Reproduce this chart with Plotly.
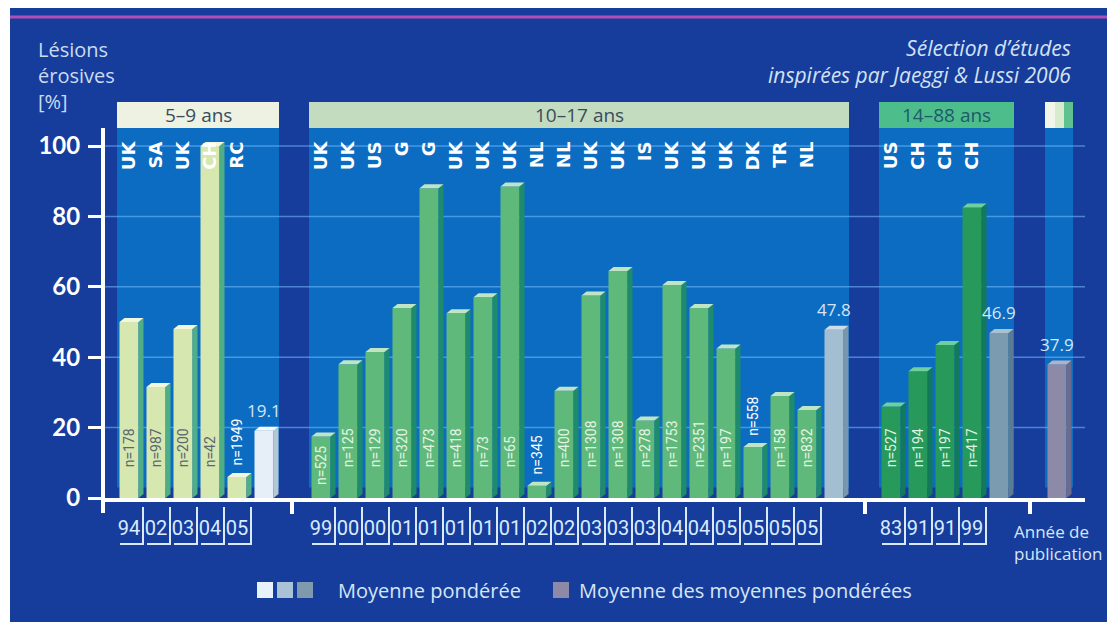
import plotly.graph_objects as go

# --------------------------- DATA ---------------------------
countries_5_9 = ["UK", "SA", "UK", "CH", "RC"]
years_5_9 = ["94", "02", "03", "04", "05"]
values_5_9 = [50, 31.5, 48, 100, 6]
n_5_9 = [178, 987, 200, 42, 1949]
mean_5_9 = 19.1

countries_10_17 = ["UK", "UK", "US", "G", "G", "UK", "UK", "UK", "NL", "NL",
                   "UK", "UK", "IS", "UK", "UK", "UK", "DK", "TR", "NL"]
years_10_17 = ["99", "00", "00", "01", "01", "01", "01", "01", "02", "02",
               "03", "03", "03", "04", "04", "05", "05", "05", "05"]
values_10_17 = [17.5, 38, 41.5, 54, 88, 52.5, 57, 88.5, 3.5, 30.5,
                57.5, 64.5, 22, 60.5, 54, 42.5, 14.5, 29, 25]
n_10_17 = [525, 125, 129, 320, 473, 418, 73, 65, 345, 400,
           1308, 1308, 278, 1753, 2351, 197, 558, 158, 832]
mean_10_17 = 47.8

countries_14_88 = ["US", "CH", "CH", "CH"]
years_14_88 = ["83", "91", "91", "99"]
values_14_88 = [26, 36, 43.5, 82.5]
n_14_88 = [527, 194, 197, 417]
mean_14_88 = 46.9

overall_mean = 37.9

# --------------------------- LAYOUT HELPERS ---------------------------
OFF = 8                # page margin of the browser body
W, H = 1115 - OFF, 628 - OFF
Y0_PX = 498            # screen row of 0 %
PX_PER_UNIT = 3.52     # pixels per percentage point
SLOT = 27
HALF = 9.5             # half width of the bar front
DEPTH_X = 5
DEPTH_Y = 4 / PX_PER_UNIT

navy = '#173d9c'
panel_blue = '#0b6cc2'
grid_color = 'rgba(120,190,255,0.55)'
light_text = '#d6e6f6'


def vy(p):
    # screen row -> value on the y axis
    return (Y0_PX - p) / PX_PER_UNIT


def py(p):
    # screen row -> paper fraction
    return 1 - (p - OFF) / H


groups = [
    dict(start=129, countries=countries_5_9, years=years_5_9, values=values_5_9, n=n_5_9,
         mean=mean_5_9, label="5–9 ans", head_bg='#edf2e2', head_fg='#3b4b5d',
         front='#d6e7b0', side='#4fae86', top='#f2f7dc', n_in='#5a6670',
         mean_front='#e6eff7', mean_side='#b3c7d6', mean_top='#f8fbfd'),
    dict(start=321, countries=countries_10_17, years=years_10_17, values=values_10_17, n=n_10_17,
         mean=mean_10_17, label="10–17 ans", head_bg='#c3dcc0', head_fg='#3b4b5d',
         front='#5fb97b', side='#1e8b6c', top='#bfe5c4', n_in='#e4f4e4',
         mean_front='#a3bdd1', mean_side='#7896ae', mean_top='#cfdde8'),
    dict(start=891, countries=countries_14_88, years=years_14_88, values=values_14_88, n=n_14_88,
         mean=mean_14_88, label="14–88 ans", head_bg='#4dbd8c', head_fg='#1d5a6c',
         front='#27995a', side='#12795c', top='#6fcf9f', n_in='#dff2e6',
         mean_front='#7b9bb0', mean_side='#5b7b93', mean_top='#a9c1d0'),
]
overall_pos = 1057


def faces(xs, vals):
    sx, sy, tx, ty = [], [], [], []
    for x, v in zip(xs, vals):
        r = x + HALF
        sx += [r, r + DEPTH_X, r + DEPTH_X, r, r, None]
        sy += [0, DEPTH_Y, v + DEPTH_Y, v, 0, None]
        tx += [x - HALF, r, r + DEPTH_X, x - HALF + DEPTH_X, x - HALF, None]
        ty += [v, v, v + DEPTH_Y, v + DEPTH_Y, v, None]
    return sx, sy, tx, ty


def bar3d(xs, vals, front, side, top):
    sx, sy, tx, ty = faces(xs, vals)
    return [
        go.Bar(x=xs, y=vals, width=2 * HALF, marker=dict(color=front, line=dict(width=0)),
               hoverinfo='skip'),
        go.Scatter(x=sx, y=sy, mode='lines', fill='toself', fillcolor=side,
                   line=dict(width=0), hoverinfo='skip'),
        go.Scatter(x=tx, y=ty, mode='lines', fill='toself', fillcolor=top,
                   line=dict(width=0), hoverinfo='skip'),
    ]


def n_label_base(v):
    if v >= 22:
        return 8
    if v >= 16:
        return 3
    return v + 2.5


traces = []
shapes = []
annotations = []
tick_pos, tick_years, tick_countries = [], [], []
bracket_x, bracket_y = [], []

# background
shapes.append(dict(type='rect', layer='below', x0=10, x1=1112, y0=vy(622), y1=vy(8),
                   fillcolor=navy, line=dict(width=0)))
shapes.append(dict(type='line', layer='below', x0=10, x1=1112, y0=vy(17), y1=vy(17),
                   line=dict(color='#b04fb5', width=3)))

for g in groups:
    xs = [g['start'] + i * SLOT for i in range(len(g['values']))]
    mean_x = g['start'] + len(g['values']) * SLOT
    left, right = xs[0] - 12, mean_x + 15

    shapes.append(dict(type='rect', layer='below', x0=left, x1=right, y0=3, y1=vy(128),
                       fillcolor=panel_blue, line=dict(width=0)))
    shapes.append(dict(type='rect', layer='below', x0=left, x1=right, y0=vy(128), y1=vy(102),
                       fillcolor=g['head_bg'], line=dict(width=0)))
    annotations.append(dict(x=(left + right) / 2, y=vy(115), text=g['label'], showarrow=False,
                            font=dict(family='Open Sans', size=19, color=g['head_fg'])))

    traces += bar3d(xs, g['values'], g['front'], g['side'], g['top'])
    traces += bar3d([mean_x], [g['mean']], g['mean_front'], g['mean_side'], g['mean_top'])

    for x, v, n in zip(xs, g['values'], g['n']):
        base = n_label_base(v)
        inside = base < v
        annotations.append(dict(x=x, y=base, text=f"n={n}", textangle=-90, showarrow=False,
                                xanchor='center', yanchor='bottom',
                                font=dict(family='Liberation Sans Narrow, Roboto', size=14,
                                          color=g['n_in'] if inside else 'white')))
        bracket_x += [x - 9, x + 14, x + 14, None]
        bracket_y += [vy(544), vy(544), vy(507), None]

    annotations.append(dict(x=mean_x, y=g['mean'] + DEPTH_Y, yshift=3, text=f"{g['mean']}",
                            showarrow=False, yanchor='bottom',
                            font=dict(family='Open Sans', size=17, color=light_text)))

    tick_pos += xs
    tick_years += g['years']
    tick_countries += g['countries']

# overall column
shapes.append(dict(type='rect', layer='below', x0=overall_pos - 12, x1=overall_pos + 16,
                   y0=3, y1=vy(128), fillcolor=panel_blue, line=dict(width=0)))
for x0, x1, c in [(-12, -2, '#f2f6ea'), (-2, 7, '#d9ebcf'), (7, 16, '#5fc090')]:
    shapes.append(dict(type='rect', layer='below', x0=overall_pos + x0, x1=overall_pos + x1,
                       y0=vy(128), y1=vy(102), fillcolor=c, line=dict(width=0)))
traces += bar3d([overall_pos], [overall_mean], '#8c8aa6', '#6d6b8b', '#b3b1c8')
annotations.append(dict(x=overall_pos, y=overall_mean + DEPTH_Y, yshift=3, text=f"{overall_mean}",
                        showarrow=False, yanchor='bottom',
                        font=dict(family='Open Sans', size=17, color=light_text)))

# grid lines
for v in [20, 40, 60, 80, 100]:
    shapes.append(dict(type='line', layer='below', x0=103, x1=1085, y0=v, y1=v,
                       line=dict(color=grid_color, width=1.5)))

# axis lines
shapes.append(dict(type='line', x0=103, x1=103, y0=vy(513), y1=vy(128),
                   line=dict(color='white', width=4)))
shapes.append(dict(type='line', x0=101, x1=1085, y0=vy(500), y1=vy(500),
                   line=dict(color='white', width=4)))
for xt in [292, 865, 1030]:
    shapes.append(dict(type='line', x0=xt, x1=xt, y0=vy(500), y1=vy(514),
                       line=dict(color='white', width=4)))

# year brackets
traces.append(go.Scatter(x=bracket_x, y=bracket_y, mode='lines',
                         line=dict(color='#dbeafa', width=2), hoverinfo='skip'))
# helper trace so the country axis is drawn
traces.append(go.Scatter(x=tick_pos, y=[0] * len(tick_pos), xaxis='x2', mode='markers',
                         marker=dict(opacity=0), hoverinfo='skip'))

# texts
for i, line in enumerate(["Lésions", "érosives", "[%]"]):
    annotations.append(dict(x=36, y=vy(49 + 26 * i), text=line, showarrow=False,
                            xanchor='left', font=dict(family='Open Sans', size=20, color='#c9dcf2')))
annotations.append(dict(x=1073, y=vy(61), text="<i>Sélection d’études<br>inspirées par Jaeggi & Lussi 2006</i>",
                        showarrow=False, xanchor='right', align='right',
                        font=dict(family='Open Sans', size=21, color='#d3e2f3')))
annotations.append(dict(x=1012, y=vy(542), text="Année de<br>publication", showarrow=False,
                        xanchor='left', align='left',
                        font=dict(family='Open Sans', size=17, color=light_text)))

# legend
for x0, c in [(257, '#e8f2fa'), (277, '#a9c2d5'), (297, '#7f9aae'), (553, '#8c8aa6')]:
    shapes.append(dict(type='rect', xref='x', x0=x0, x1=x0 + 16, y0=vy(598), y1=vy(582),
                       fillcolor=c, line=dict(width=0)))
annotations.append(dict(x=336, y=vy(590), text="Moyenne pondérée", showarrow=False, xanchor='left',
                        font=dict(family='Open Sans', size=20, color=light_text)))
annotations.append(dict(x=577, y=vy(590), text="Moyenne des moyennes pondérées", showarrow=False,
                        xanchor='left', font=dict(family='Open Sans', size=20, color=light_text)))

fig = go.Figure(data=traces)
fig.update_layout(
    width=W, height=H,
    margin=dict(l=0, r=0, t=0, b=0),
    paper_bgcolor='white', plot_bgcolor='white',
    showlegend=False, hovermode=False, barmode='overlay',
    shapes=shapes, annotations=annotations,
    xaxis=dict(range=[OFF, OFF + W], domain=[0, 1], anchor='free', position=py(500),
               tickvals=tick_pos, ticktext=tick_years, ticks='', showgrid=False,
               zeroline=False, showline=False, ticklabelstandoff=14,
               tickfont=dict(family='Liberation Sans Narrow, Roboto', size=20, color='#d9ebff')),
    xaxis2=dict(overlaying='x', matches='x', anchor='free', position=py(137), side='bottom',
                tickvals=tick_pos, ticktext=tick_countries, tickangle=-90, ticks='',
                showgrid=False, zeroline=False, showline=False, ticklabelstandoff=0,
                tickfont=dict(family='DejaVu Sans', size=18, color='white', weight='bold')),
    yaxis=dict(range=[vy(OFF + H), vy(OFF)], anchor='free', position=(103 - OFF) / W,
               showgrid=False, zeroline=False, showline=False, ticks='outside', ticklen=15,
               tickwidth=3, tickcolor='white', tickvals=[0, 20, 40, 60, 80, 100],
               ticklabelstandoff=3,
               tickfont=dict(family='Lato', size=24, color='white', weight='bold')),
)

fig.write_html("out.html")
